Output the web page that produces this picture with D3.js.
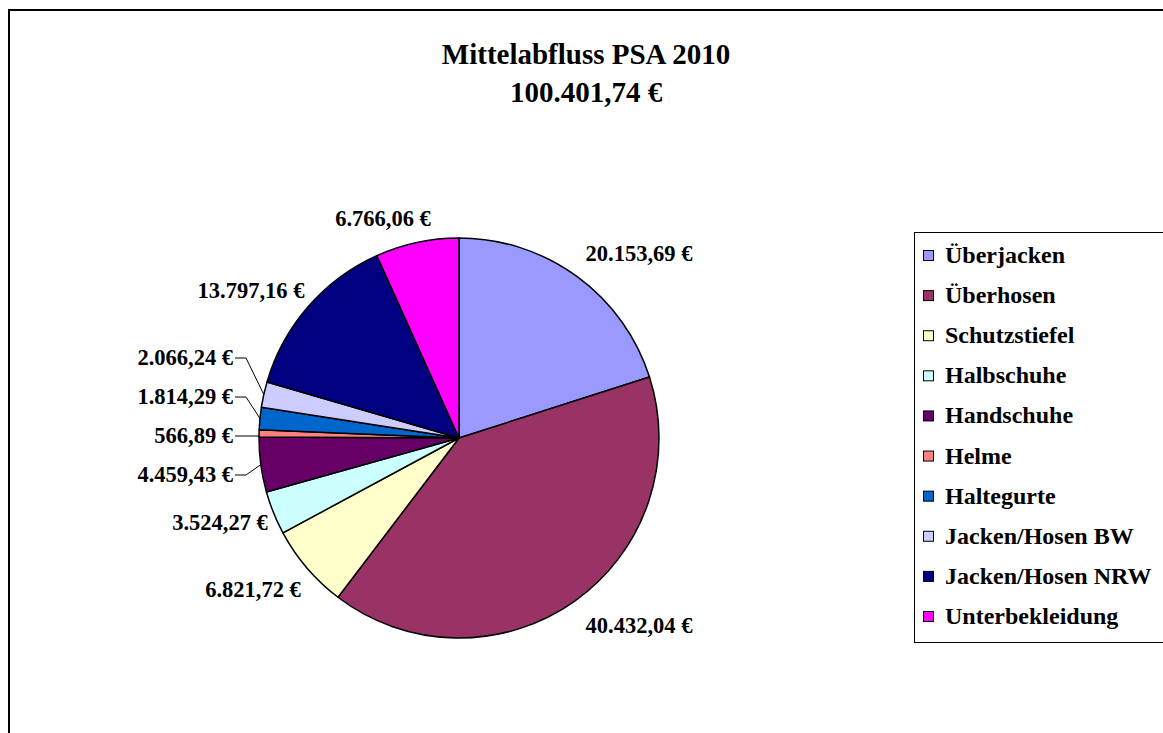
<!DOCTYPE html>
<html>
<head>
<meta charset="utf-8">
<script src="https://cdn.jsdelivr.net/npm/d3@7"></script>
<style>
  body { margin: 0; background: #fff; }
  text { font-family: "Liberation Serif", "Times New Roman", serif; font-weight: bold; fill: #000; }
</style>
</head>
<body>
<svg id="chart" width="1163" height="733"></svg>
<script>
// Daten
const categories = ["Überjacken", "Überhosen", "Schutzstiefel", "Halbschuhe", "Handschuhe",
  "Helme", "Haltegurte", "Jacken/Hosen BW", "Jacken/Hosen NRW", "Unterbekleidung"];
const values = [20153.69, 40432.04, 6821.72, 3524.27, 4459.43, 566.89, 1814.29, 2066.24, 13797.16, 6766.06];
const colors = ["#9999FF", "#993366", "#FFFFCC", "#CCFFFF", "#660066",
  "#FF8080", "#0066CC", "#CCCCFF", "#000080", "#FF00FF"];
const titleLines = ["Mittelabfluss PSA 2010", "100.401,74 €"];

// Label-Layout (Position der Beschriftung, Ausrichtung, Führungslinie)
const labelLayout = [
  { x: 639, y: 261, anchor: "middle" },
  { x: 639, y: 633, anchor: "middle" },
  { x: 253, y: 597, anchor: "middle" },
  { x: 220, y: 530, anchor: "middle" },
  { x: 233, y: 482, anchor: "end", leader: true, ly: 475 },
  { x: 233, y: 443, anchor: "end", leader: true, ly: 436 },
  { x: 233, y: 404, anchor: "end", leader: true, ly: 397 },
  { x: 233, y: 365, anchor: "end", leader: true, ly: 358 },
  { x: 251, y: 298, anchor: "middle" },
  { x: 383, y: 226, anchor: "middle" }
];

const fmt = d3.formatLocale({ decimal: ",", thousands: ".", grouping: [3], currency: ["", " €"] }).format(",.2f");

const svg = d3.select("#chart");
const cx = 459, cy = 438, r = 200;

// Rahmen
svg.append("rect")
  .attr("x", 9).attr("y", 10)
  .attr("width", 1200).attr("height", 800)
  .attr("fill", "none").attr("stroke", "#000").attr("stroke-width", 2);

// Titel
svg.selectAll(".title")
  .data(titleLines)
  .enter().append("text")
  .attr("class", "title")
  .attr("x", 586)
  .attr("y", (d, i) => 64 + i * 37.5)
  .attr("text-anchor", "middle")
  .style("font-size", "29px")
  .text(d => d);

// Kreisdiagramm
const pie = d3.pie().sort(null).value(d => d)(values);
const arc = d3.arc().innerRadius(0).outerRadius(r);
const edge = d3.arc().innerRadius(r).outerRadius(r);

const g = svg.append("g").attr("transform", `translate(${cx},${cy})`);
g.selectAll("path")
  .data(pie)
  .enter().append("path")
  .attr("d", arc)
  .attr("fill", (d, i) => colors[i])
  .attr("stroke", "#000")
  .attr("stroke-width", 1.5)
  .attr("stroke-linejoin", "round");

// Führungslinien
pie.forEach((d, i) => {
  const L = labelLayout[i];
  if (!L.leader) return;
  const [ex, ey] = edge.centroid(d);
  const px = cx + ex, py = cy + ey;
  const pts = Math.abs(py - L.ly) < 4
    ? [[L.x + 2, L.ly], [px, L.ly]]
    : [[L.x + 2, L.ly], [L.x + 13, L.ly], [px, py]];
  svg.append("path")
    .attr("d", d3.line()(pts))
    .attr("fill", "none")
    .attr("stroke", "#000")
    .attr("stroke-width", 1);
});

// Beschriftungen
svg.selectAll(".value-label")
  .data(values)
  .enter().append("text")
  .attr("class", "value-label")
  .attr("x", (d, i) => labelLayout[i].x)
  .attr("y", (d, i) => labelLayout[i].y)
  .attr("text-anchor", (d, i) => labelLayout[i].anchor)
  .style("font-size", "22.5px")
  .text(d => fmt(d) + " €");

// Legende
const legend = svg.append("g");
legend.append("rect")
  .attr("x", 914.5).attr("y", 232.5)
  .attr("width", 300).attr("height", 410)
  .attr("fill", "#fff").attr("stroke", "#000").attr("stroke-width", 1);

const ly = d3.scalePoint().domain(categories).range([255, 616]);
const items = legend.selectAll(".item")
  .data(categories)
  .enter().append("g")
  .attr("transform", d => `translate(923,${ly(d)})`);
items.append("rect")
  .attr("x", 0.5).attr("y", -4.5)
  .attr("width", 10).attr("height", 10)
  .attr("fill", (d, i) => colors[i])
  .attr("stroke", "#000").attr("stroke-width", 1);
items.append("text")
  .attr("x", 22).attr("y", 8)
  .style("font-size", "24px")
  .text(d => d);
</script>
</body>
</html>
